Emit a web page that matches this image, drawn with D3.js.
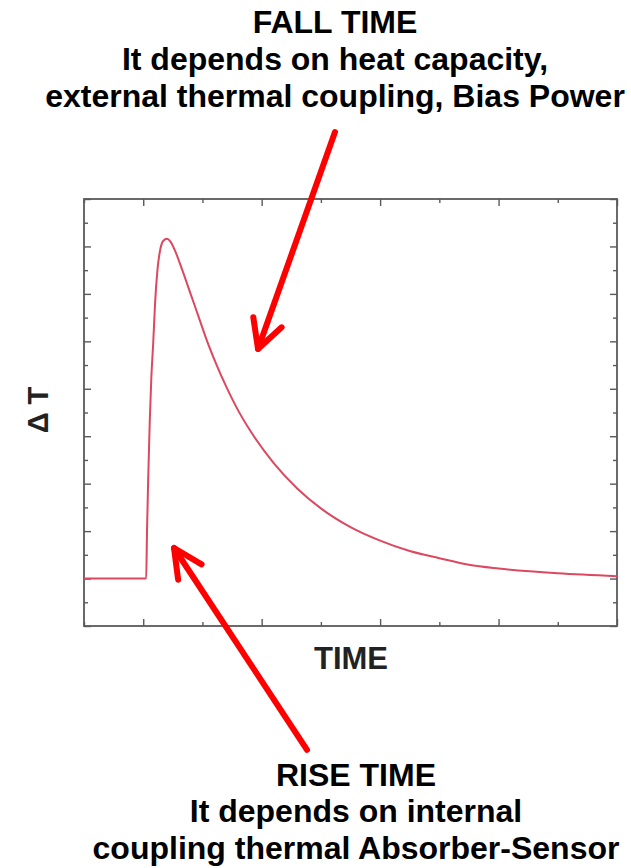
<!DOCTYPE html>
<html>
<head>
<meta charset="utf-8">
<script src="https://cdn.jsdelivr.net/npm/d3@7"></script>
<style>
  html, body { margin: 0; padding: 0; background: #fff; }
  svg { display: block; }
  text { font-family: "Liberation Sans", Arial, sans-serif; font-weight: bold; }
</style>
</head>
<body>
<script>
// Thermal pulse of a bolometer: temperature rise ΔT versus time
const timeValues = [-0.5, 0.025, 0.032, 0.042, 0.055, 0.068, 0.085, 0.1, 0.12, 0.145, 0.17, 0.2,
  0.23, 0.27, 0.33, 0.4, 0.47, 0.54, 0.62, 0.7, 0.8, 0.9, 1.1, 1.3, 1.5, 1.75, 2.0, 2.25, 2.5, 2.75, 3.0, 3.5, 4.0];
const deltaT = [0, 0, 1.0, 2.1, 3.3, 4.2, 5.0, 5.8, 6.5, 6.95, 7.12, 7.16,
  7.1, 6.9, 6.5, 6.0, 5.5, 5.0, 4.5, 4.05, 3.55, 3.13, 2.44, 1.9, 1.48, 1.085, 0.8, 0.58, 0.43, 0.29, 0.21, 0.11, 0.05];

const xMajorTicks = [0, 1, 2, 3, 4];
const xMinorTicks = [-0.5, 0.5, 1.5, 2.5, 3.5];
const yMajorTicks = [-1, 0, 1, 2, 3, 4, 5, 6, 7, 8];
const yMinorTicks = [-0.5, 0.5, 1.5, 2.5, 3.5, 4.5, 5.5, 6.5, 7.5];

const xLabel = "TIME";
const yLabel = "Δ T";
const fallText = ["FALL TIME", "It depends on heat capacity,", "external thermal coupling, Bias Power"];
const riseText = ["RISE TIME", "It depends on internal", "coupling thermal Absorber-Sensor"];

// Arrow annotations in data units: [tailTime, tailΔT, tipTime, tipΔT]
const fallArrow = [1.619, 9.41, 0.969, 4.84];
const riseArrow = [1.383, -3.61, 0.26, 0.644];

const W = 631, H = 868;
const plot = { left: 84, right: 617, top: 199, bottom: 626 };

const svg = d3.select("body").append("svg").attr("width", W).attr("height", H);
svg.append("rect").attr("width", W).attr("height", H).attr("fill", "#fff");

const x = d3.scaleLinear().domain([-0.5, 4]).range([plot.left, plot.right]);
const y = d3.scaleLinear().domain([-1, 8]).range([plot.bottom, plot.top]);

const frameColor = "#5a5a5a";
const majorLen = 7, minorLen = 4;

function styleAxis(g) {
  g.select(".domain").remove();
  g.selectAll(".tick line").attr("stroke", frameColor).attr("stroke-width", 1.4);
  g.selectAll(".tick text").remove();
}

// inward ticks on all four sides
[[xMajorTicks, majorLen], [xMinorTicks, minorLen]].forEach(([vals, len]) => {
  svg.append("g").attr("transform", `translate(0,${plot.bottom})`)
    .call(d3.axisBottom(x).tickValues(vals).tickSize(-len)).call(styleAxis);
  svg.append("g").attr("transform", `translate(0,${plot.top})`)
    .call(d3.axisTop(x).tickValues(vals).tickSize(-len)).call(styleAxis);
});
[[yMajorTicks, majorLen], [yMinorTicks, minorLen]].forEach(([vals, len]) => {
  svg.append("g").attr("transform", `translate(${plot.left},0)`)
    .call(d3.axisLeft(y).tickValues(vals).tickSize(-len)).call(styleAxis);
  svg.append("g").attr("transform", `translate(${plot.right},0)`)
    .call(d3.axisRight(y).tickValues(vals).tickSize(-len)).call(styleAxis);
});

// frame
svg.append("rect")
  .attr("x", plot.left).attr("y", plot.top)
  .attr("width", plot.right - plot.left).attr("height", plot.bottom - plot.top)
  .attr("fill", "none").attr("stroke", frameColor).attr("stroke-width", 1.8);

// pulse curve
const pts = timeValues.map((t, i) => [t, deltaT[i]]);
svg.append("path")
  .datum(pts)
  .attr("fill", "none")
  .attr("stroke", "#dc4860")
  .attr("stroke-width", 2)
  .attr("stroke-linejoin", "round")
  .attr("d", d3.line().x(d => x(d[0])).y(d => y(d[1])).curve(d3.curveMonotoneX));

// axis titles
svg.append("text")
  .attr("x", 351).attr("y", 669)
  .attr("text-anchor", "middle")
  .attr("font-size", 31).attr("fill", "#222")
  .text(xLabel);
svg.append("text")
  .attr("transform", "translate(48,410) rotate(-90)")
  .attr("text-anchor", "middle")
  .attr("font-size", 29).attr("fill", "#222")
  .text(yLabel);

// annotation arrows
function drawArrow(a, spread, len) {
  const x0 = x(a[0]), y0 = y(a[1]), x1 = x(a[2]), y1 = y(a[3]);
  const back = Math.atan2(y0 - y1, x0 - x1);
  const g = svg.append("g")
    .attr("stroke", "#ff0000").attr("stroke-width", 6)
    .attr("stroke-linecap", "round").attr("stroke-linejoin", "round")
    .attr("fill", "none");
  g.append("line").attr("x1", x0).attr("y1", y0).attr("x2", x1).attr("y2", y1);
  const s = spread * Math.PI / 180;
  const arm = (ang) => [x1 + len * Math.cos(ang), y1 + len * Math.sin(ang)];
  const p1 = arm(back - s), p2 = arm(back + s);
  g.append("path").attr("d", `M${p1[0]},${p1[1]}L${x1},${y1}L${p2[0]},${p2[1]}`);
}
drawArrow(fallArrow, 28, 32);
drawArrow(riseArrow, 26, 32);

// annotation texts
function block(lines, cx, baselines) {
  lines.forEach((s, i) => {
    svg.append("text")
      .attr("x", cx).attr("y", baselines[i])
      .attr("text-anchor", "middle")
      .attr("font-size", 32).attr("fill", "#000")
      .text(s);
  });
}
block(fallText, 335, [33, 70, 107]);
block(riseText, 356, [786, 822, 859]);
</script>
</body>
</html>
